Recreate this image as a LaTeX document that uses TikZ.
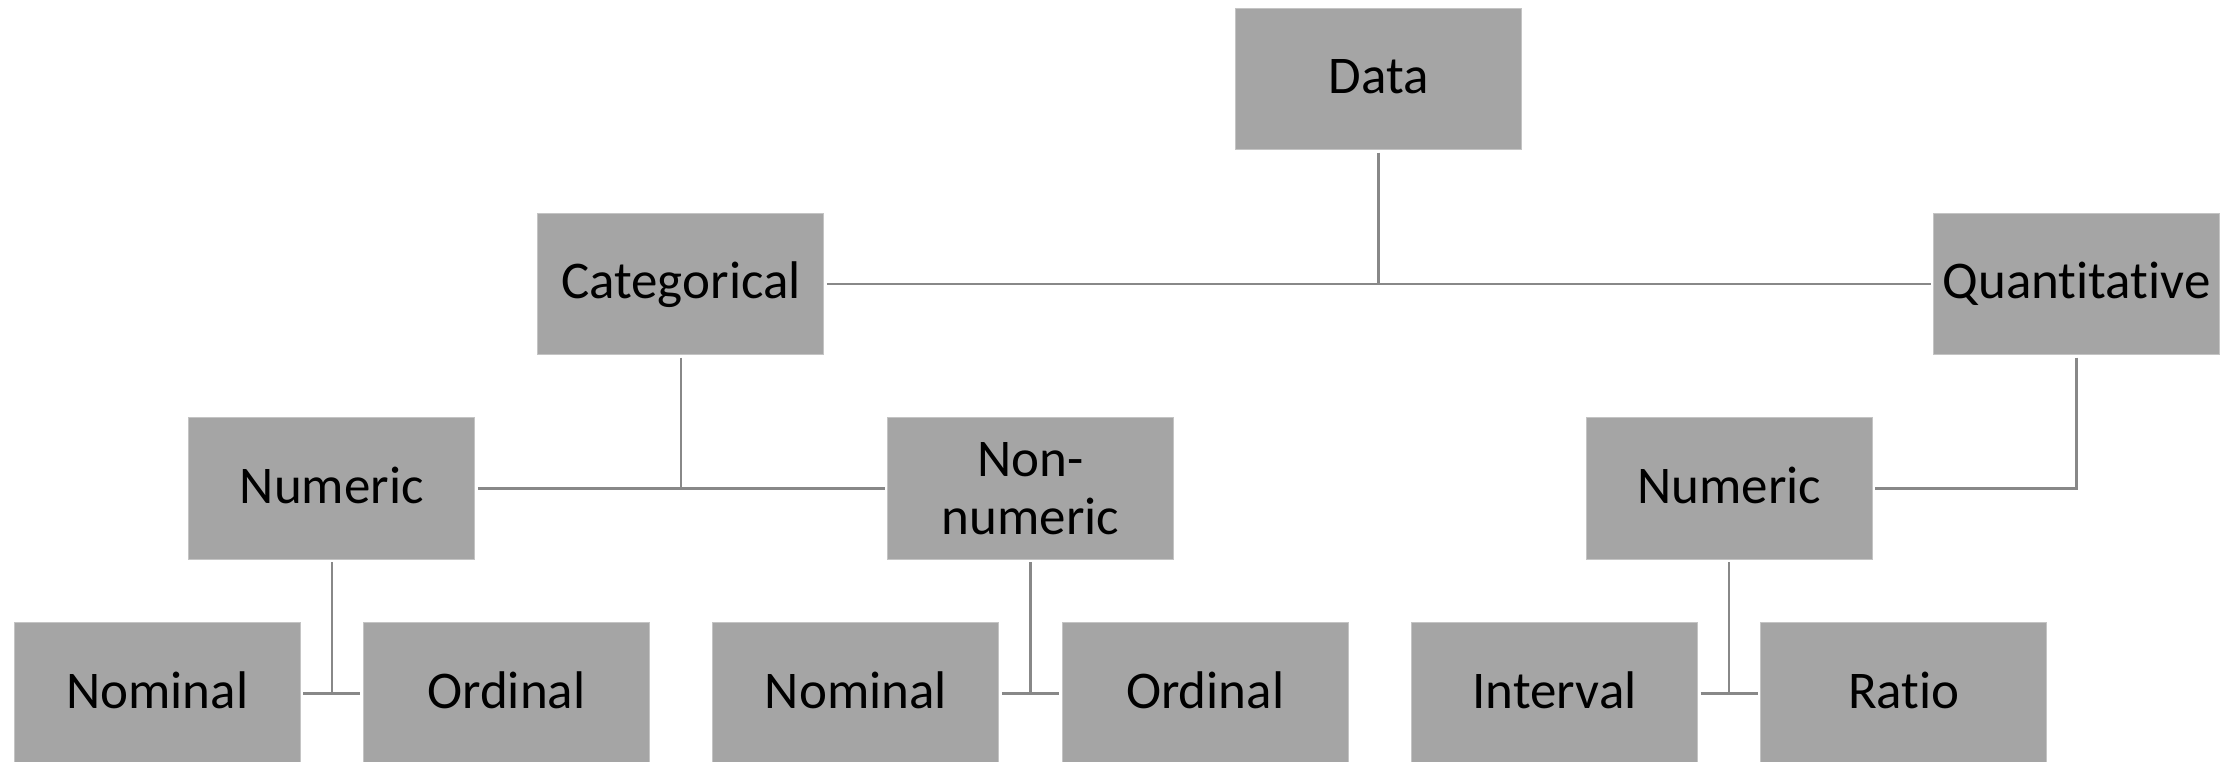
\documentclass[tikz,border=0pt]{standalone}
\usepackage{fontspec}
\setmainfont{Carlito}[Ligatures=NoCommon]
\usetikzlibrary{shapes, arrows}
\usepackage{xcolor}
\definecolor{boxgray}{HTML}{A5A5A5}
\definecolor{edgegray}{HTML}{C4C4C4}
\definecolor{linegray}{HTML}{888888}

\begin{document}
\begin{tikzpicture}[x=1pt,y=1pt]
		\tikzstyle{terminator} = [rectangle, draw=edgegray, line width=1pt, fill=boxgray, text centered, align=center, minimum width=286pt, minimum height=141.5pt, inner sep=0pt, outer sep=3pt, font=\fontsize{53}{58.4}\selectfont]
		\tikzstyle{oneline} = [text height=40pt, text depth=10pt]
		\tikzstyle{connector} = [draw=linegray, line width=2.4pt]
		\useasboundingbox (0,0) rectangle (2226,-761);
		\node [terminator, oneline] at (1378.6,-78.8) (data) {Data};
		\node [terminator, oneline] at (680.9,-283.8) (cat) {Categorical};
		\node [terminator, oneline] at (2076.5,-283.8) (quant) {Quantitative};
		\node [terminator, oneline] at (331.8,-488.5) (num1) {Numeric};
		\node [terminator] at (1030.5,-488.5) (nonnum) {Non-\\numeric};
		\node [terminator, oneline] at (1729.1,-488.5) (num2) {Numeric};
		\node [terminator, oneline] at (157.3,-693.5) (nom1) {Nominal};
		\node [terminator, oneline] at (506.3,-693.5) (ord1) {Ordinal};
		\node [terminator, oneline] at (855.9,-693.5) (nom2) {Nominal};
		\node [terminator, oneline] at (1205.2,-693.5) (ord2) {Ordinal};
		\node [terminator, oneline] at (1554.5,-693.5) (inter) {Interval};
		\node [terminator, oneline] at (1903.8,-693.5) (ratio) {Ratio};
		\path [connector] (cat) -- (quant);
		\path [connector] (data) -- (data |- cat);
		\path [connector] (num1) -- (nonnum);
		\path [connector] (cat) -- (cat |- num1);
		\path [connector] (quant) |- (num2);
		\path [connector] (nom1) -- (ord1);
		\path [connector] (num1) -- (num1 |- nom1);
		\path [connector] (nom2) -- (ord2);
		\path [connector] (nonnum) -- (nonnum |- nom2);
		\path [connector] (inter) -- (ratio);
		\path [connector] (num2) -- (num2 |- inter);
	\end{tikzpicture}
\end{document}
